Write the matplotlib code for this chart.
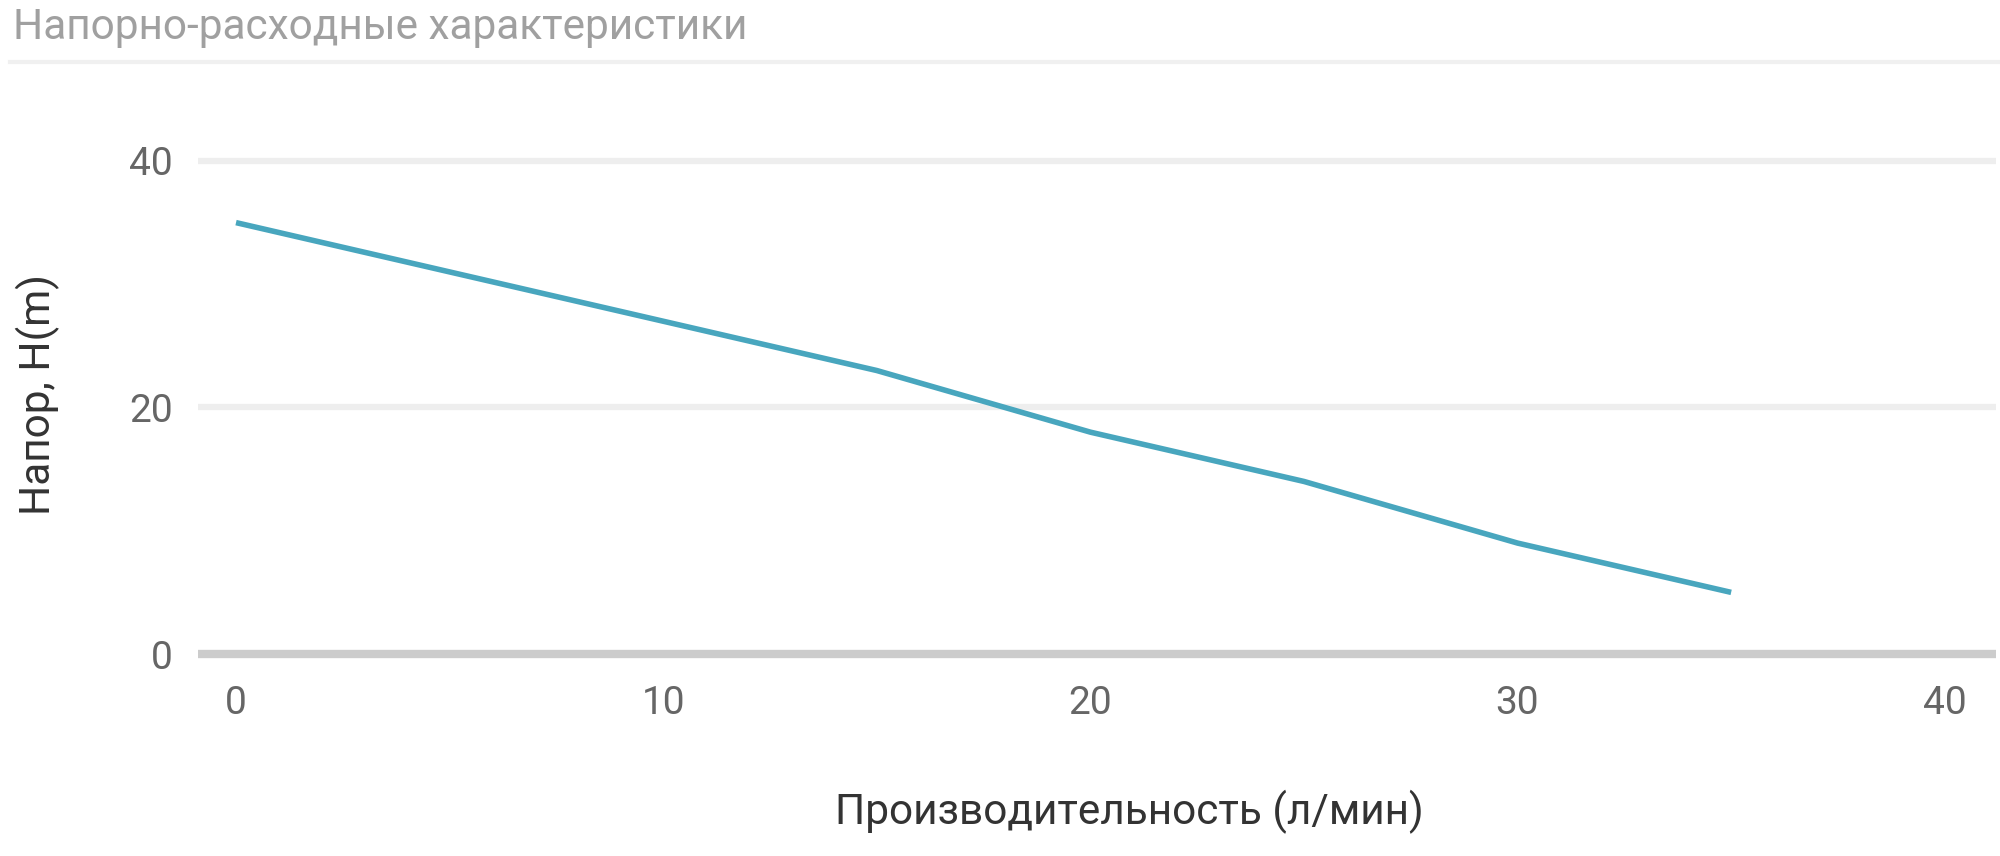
import matplotlib
matplotlib.use("Agg")
import matplotlib.pyplot as plt
from matplotlib.lines import Line2D

plt.rcParams['font.family'] = ['Roboto', 'DejaVu Sans']

# flow (l/min) vs head (m)
flow = [0, 5, 10, 15, 20, 25, 30, 35]
head = [35, 31, 27, 23, 18, 14, 9, 5]
x_ticks = [0, 10, 20, 30, 40]
y_ticks = [0, 20, 40]

title = "Напорно-расходные характеристики"
x_title = "Производительность (л/мин)"
y_title = "Напор, Н(m)"

fig = plt.figure(figsize=(20, 8.56), dpi=100)
ax = fig.add_axes([0.099, 0.2187, 0.899, 0.6105])

for yv in y_ticks:
    if yv == 0:
        ax.axhline(yv, color='#cccccc', lw=6, zorder=1)
    else:
        ax.axhline(yv, color='#eeeeee', lw=4.5, zorder=1)

ax.plot(flow, head, color='#48a6be', lw=4, solid_capstyle='butt', zorder=3)

ax.set_xlim(-0.89, 41.2)
ax.set_ylim(-1.2, 41.2)
ax.set_xticks(x_ticks)
ax.set_yticks(y_ticks)
ax.tick_params(length=0, labelsize=28, labelcolor='#666666')
ax.tick_params(axis='x', pad=12)
ax.tick_params(axis='y', pad=18)
for s in ax.spines.values():
    s.set_visible(False)

ax.set_xlabel(x_title, fontsize=30.5, color='#333333')
ax.xaxis.set_label_coords(0.518, -0.232)
ax.set_ylabel(y_title, fontsize=30.5, color='#333333')
ax.yaxis.set_label_coords(-0.077, 0.524)

fig.text(13 / 2000, 1 - 28 / 856, title, fontsize=30.5, color='#a0a0a0',
         ha='left', va='center')
fig.add_artist(Line2D([10 / 2000, 1], [1 - 62 / 856] * 2, color='#f0f0f0', lw=3))

fig.savefig('out.png', dpi=100, facecolor='white')
